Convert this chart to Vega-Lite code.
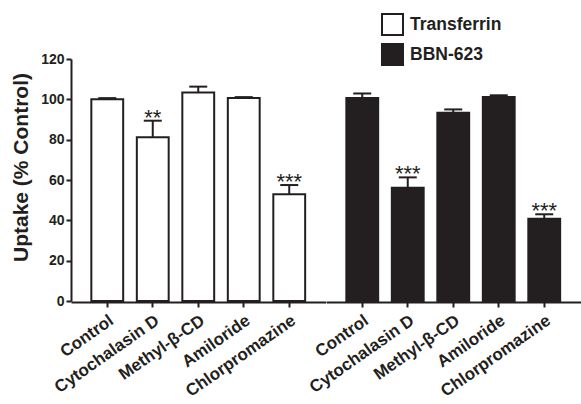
{
  "$schema": "https://vega.github.io/schema/vega-lite/v6.json",
  "padding": {"left": 10, "top": 13, "right": 0, "bottom": 0},
  "background": "white",
  "data": {"values": [
    {"group": "Transferrin", "treatment": "Control", "value": 100.1, "upper": 100.6, "sig": ""},
    {"group": "Transferrin", "treatment": "Cytochalasin D", "value": 81.2, "upper": 89.4, "sig": "**"},
    {"group": "Transferrin", "treatment": "Methyl-β-CD", "value": 103.4, "upper": 106.3, "sig": ""},
    {"group": "Transferrin", "treatment": "Amiloride", "value": 100.7, "upper": 101.1, "sig": ""},
    {"group": "Transferrin", "treatment": "Chlorpromazine", "value": 52.9, "upper": 57.5, "sig": "***"},
    {"group": "BBN-623", "treatment": "Control", "value": 100.6, "upper": 102.9, "sig": ""},
    {"group": "BBN-623", "treatment": "Cytochalasin D", "value": 56.1, "upper": 61.3, "sig": "***"},
    {"group": "BBN-623", "treatment": "Methyl-β-CD", "value": 93.4, "upper": 95.0, "sig": ""},
    {"group": "BBN-623", "treatment": "Amiloride", "value": 101.1, "upper": 102.0, "sig": ""},
    {"group": "BBN-623", "treatment": "Chlorpromazine", "value": 40.8, "upper": 43.0, "sig": "***"}
  ]},
  "facet": {
    "column": {"field": "group", "type": "nominal", "sort": ["Transferrin", "BBN-623"], "header": {"title": null, "labels": false}}
  },
  "spacing": 0,
  "spec": {
    "width": 254.5,
    "height": 242,
    "encoding": {
      "x": {
        "field": "treatment", "type": "nominal",
        "sort": ["Control", "Cytochalasin D", "Methyl-β-CD", "Amiloride", "Chlorpromazine"],
        "scale": {"paddingInner": 0.3, "paddingOuter": 0.447},
        "axis": {"title": null, "labelAngle": -35, "labelFontSize": 17, "labelFontWeight": "bold", "labelPadding": 5, "labelOverlap": false}
      }
    },
    "layer": [
      {
        "mark": {"type": "bar", "stroke": "#231f20", "strokeWidth": 2},
        "encoding": {
          "y": {"field": "value", "type": "quantitative", "scale": {"domain": [0, 120]},
                "axis": {"title": "Uptake (% Control)", "values": [0, 20, 40, 60, 80, 100, 120], "titleY": 108}},
          "fill": {"field": "group", "type": "nominal", "sort": ["Transferrin", "BBN-623"],
                   "scale": {"domain": ["Transferrin", "BBN-623"], "range": ["#ffffff", "#231f20"]},
                   "legend": {"title": null, "orient": "none", "legendX": 310, "legendY": -46, "symbolType": "square", "symbolSize": 441,
                              "symbolStrokeColor": "#231f20", "symbolStrokeWidth": 2, "labelFontSize": 17.5, "labelFontWeight": "bold",
                              "labelOffset": 6, "rowPadding": 1, "padding": 0, "labelColor": "#231f20"}}
        }
      },
      {
        "mark": {"type": "rule", "strokeWidth": 2, "color": "#231f20"},
        "encoding": {"y": {"field": "value", "type": "quantitative"}, "y2": {"field": "upper"}}
      },
      {
        "mark": {"type": "tick", "thickness": 2, "size": 18, "color": "#231f20", "opacity": 1},
        "encoding": {"y": {"field": "upper", "type": "quantitative"}}
      },
      {
        "mark": {"type": "text", "fontSize": 22, "font": "Liberation Sans", "baseline": "alphabetic", "dy": 4, "color": "#231f20"},
        "encoding": {"y": {"field": "upper", "type": "quantitative"}, "text": {"field": "sig"}}
      }
    ]
  },
  "config": {
    "font": "Liberation Sans",
    "view": {"stroke": null},
    "axis": {
      "grid": false, "domainColor": "#231f20", "domainWidth": 2, "tickColor": "#231f20", "tickWidth": 2, "tickSize": 5,
      "labelColor": "#231f20", "labelFont": "Liberation Sans", "titleColor": "#231f20", "titleFont": "Liberation Sans"
    },
    "axisY": {"labelFontSize": 14, "labelFontWeight": "bold", "labelPadding": 2, "titleFontSize": 21, "titleFontWeight": "bold", "titlePadding": 9},
    "legend": {"labelFont": "Liberation Sans"}
  }
}
